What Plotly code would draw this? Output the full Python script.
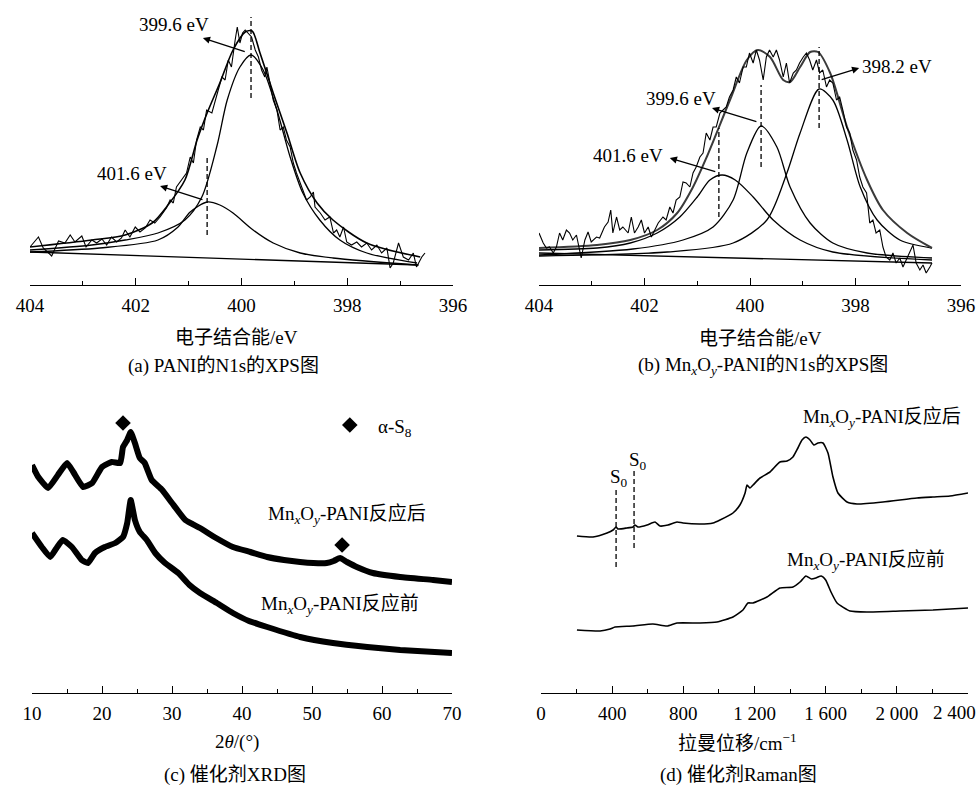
import plotly.graph_objects as go

# ---------------- (a) PANI N1s XPS ----------------
a_raw_ev = [404.00, 403.84, 403.75, 403.59, 403.46, 403.34, 403.24, 403.15, 403.02, 402.94,
            402.83, 402.74, 402.64, 402.55, 402.46, 402.36, 402.27, 402.20, 402.11, 402.01,
            401.92, 401.82, 401.73, 401.64, 401.54, 401.48, 401.42, 401.35, 401.29, 401.23,
            401.13, 401.04, 400.97, 400.91, 400.85, 400.78, 400.72, 400.66, 400.56, 400.50,
            400.44, 400.37, 400.31, 400.25, 400.19, 400.12, 400.08, 400.03, 399.98, 399.93,
            399.87, 399.81, 399.74, 399.68, 399.62, 399.56, 399.52, 399.46, 399.40, 399.33,
            399.27, 399.21, 399.15, 399.08, 399.02, 398.96, 398.89, 398.83, 398.77, 398.70,
            398.64, 398.61, 398.51, 398.42, 398.33, 398.26, 398.20, 398.14, 398.07, 398.01,
            397.92, 397.82, 397.73, 397.63, 397.54, 397.44, 397.35, 397.25, 397.19, 397.13,
            397.03, 396.94, 396.84, 396.75, 396.69, 396.59, 396.53]
a_raw = [38, 48, 37, 29, 44, 42, 50, 43, 49, 38,
         45, 42, 46, 40, 48, 43, 47, 55, 48, 58,
         53, 57, 65, 62, 68, 72, 77, 85, 82, 98,
         105, 112, 128, 122, 145, 158, 155, 175, 172, 185,
         195, 208, 205, 225, 218, 245, 258, 242, 252, 255,
         252, 248, 235, 228, 215, 208, 218, 202, 185, 175,
         155, 158, 145, 138, 122, 112, 102, 95, 85, 88,
         93, 78, 72, 65, 68, 52, 55, 48, 58, 43,
         40, 43, 38, 42, 35, 40, 32, 37, 17, 22,
         42, 28, 25, 32, 18, 28, 32]

a_env_ev = [404.00, 402.83, 402.20, 401.69, 401.39, 401.07, 400.84, 400.65, 400.41, 400.16,
            399.93, 399.80, 399.65, 399.40, 399.14, 398.89, 398.57, 398.27, 397.63, 396.62]
a_env = [38, 45, 50, 62, 80, 105, 145, 172, 202, 235,
         253, 254, 232, 192, 152, 112, 82, 65, 42, 28]

a_c1_ev = [404.00, 402.83, 402.20, 401.58, 401.07, 400.75, 400.46, 400.27, 400.03, 399.82,
           399.59, 399.33, 399.08, 398.84, 398.52, 398.14, 397.63, 396.68]
a_c1 = [35, 40, 45, 52, 65, 88, 140, 185, 218, 230,
        215, 175, 128, 92, 65, 45, 32, 22]

a_c2_ev = [404.00, 402.68, 401.58, 401.20, 400.97, 400.65, 400.41, 400.16, 399.78, 399.40,
           398.89, 398.27, 396.68]
a_c2 = [33, 37, 45, 58, 73, 83, 80, 72, 55, 42,
        32, 27, 20]

a_base_ev = [404.00, 396.65]
a_base = [33, 20]

a_peaks_ev = [399.82, 400.65]
a_peaks_lo = [187, 50]
a_peaks_hi = [268, 130]

# ---------------- (b) MnxOy-PANI N1s XPS ----------------
b_raw_ev = [404.00, 403.92, 403.86, 403.80, 403.73, 403.67, 403.61, 403.55, 403.48, 403.42,
            403.36, 403.29, 403.20, 403.13, 403.07, 403.01, 402.91, 402.85, 402.76, 402.69,
            402.64, 402.60, 402.53, 402.47, 402.41, 402.31, 402.25, 402.19, 402.12, 402.06,
            402.00, 401.93, 401.87, 401.81, 401.74, 401.65, 401.59, 401.52, 401.46, 401.40,
            401.33, 401.27, 401.21, 401.14, 401.08, 401.02, 400.95, 400.89, 400.83, 400.76,
            400.70, 400.64, 400.57, 400.51, 400.45, 400.39, 400.32, 400.26, 400.20, 400.13,
            400.07, 400.01, 399.94, 399.88, 399.82, 399.75, 399.69, 399.63, 399.56, 399.50,
            399.44, 399.37, 399.31, 399.25, 399.18, 399.12, 399.06, 398.99, 398.93, 398.87,
            398.81, 398.74, 398.68, 398.62, 398.55, 398.49, 398.43, 398.36, 398.30, 398.24,
            398.17, 398.11, 398.05, 397.98, 397.92, 397.86, 397.79, 397.73, 397.67, 397.61,
            397.54, 397.48, 397.42, 397.35, 397.29, 397.23, 397.16, 397.10, 397.04, 396.97,
            396.91, 396.85, 396.78, 396.72, 396.66, 396.59, 396.55]
b_raw = [52, 42, 37, 38, 32, 38, 52, 45, 55, 52,
         45, 50, 27, 45, 53, 43, 48, 47, 58, 63,
         75, 52, 68, 55, 58, 52, 68, 52, 58, 65,
         52, 58, 48, 55, 62, 68, 65, 78, 72, 85,
         88, 103, 102, 98, 112, 118, 128, 132, 152, 145,
         158, 158, 172, 175, 178, 188, 195, 208, 202, 218,
         218, 232, 222, 235, 225, 205, 228, 235, 228, 235,
         225, 208, 222, 202, 212, 215, 222, 228, 232, 225,
         215, 225, 212, 215, 198, 205, 202, 185, 188, 175,
         158, 152, 135, 125, 108, 98, 92, 62, 65, 52,
         55, 38, 28, 25, 32, 22, 27, 18, 25, 32,
         40, 22, 15, 20, 12, 18, 22]

b_env_ev = [404.00, 402.90, 402.27, 401.76, 401.38, 401.08, 400.82, 400.38, 400.06, 399.85,
            399.62, 399.37, 399.24, 399.05, 398.86, 398.71, 398.48, 398.16, 397.78, 397.48,
            397.02, 396.55]
b_env = [37, 40, 45, 55, 72, 98, 128, 185, 225, 235,
         228, 205, 203, 218, 233, 233, 212, 158, 105, 75,
         52, 37]

b_c1_ev = [404.00, 402.90, 402.27, 401.76, 401.33, 401.00, 400.76, 400.53, 400.28, 399.94,
           399.56, 399.05, 398.43, 396.55]
b_c1 = [35, 37, 42, 52, 68, 88, 105, 110, 105, 88,
        65, 45, 33, 25]

b_c2_ev = [404.00, 402.22, 401.27, 400.70, 400.32, 400.06, 399.79, 399.49, 399.24, 398.86,
           398.43, 397.78, 396.55]
b_c2 = [30, 36, 45, 58, 85, 132, 159, 138, 98, 62,
        42, 32, 27]

b_c3_ev = [404.00, 401.57, 400.32, 399.68, 399.30, 399.05, 398.69, 398.43, 398.16, 397.91,
           397.59, 397.16, 396.55]
b_c3 = [29, 33, 42, 65, 112, 152, 196, 185, 145, 98,
        65, 45, 37]

b_base_ev = [404.00, 396.55]
b_base = [32, 22]

b_peaks_ev = [400.59, 399.79, 398.69]
b_peaks_lo = [68, 118, 157]
b_peaks_hi = [157, 200, 238]

# ---------------- (c) XRD ----------------
xrd_after_2t = [10.0, 10.9, 12.3, 13.7, 15.0, 15.9, 17.3, 18.6, 20.0, 21.4,
                22.6, 23.0, 23.6, 24.1, 24.7, 25.4, 26.1, 27.1, 28.6, 30.0,
                31.9, 34.0, 36.3, 38.7, 41.2, 43.6, 46.0, 48.3, 50.2, 52.1,
                53.1, 54.0, 55.0, 56.4, 58.7, 62.6, 67.3, 70.0]
xrd_after = [228, 216, 205, 218, 230, 221, 206, 210, 226, 231,
             230, 246, 253, 261, 250, 235, 230, 213, 203, 190,
             173, 165, 155, 146, 141, 136, 133, 131, 130, 130,
             132, 135, 131, 126, 120, 116, 113, 111]

xrd_before_2t = [10.0, 11.4, 12.6, 13.6, 14.4, 15.7, 17.1, 18.0, 19.0, 20.4,
                 21.9, 23.0, 23.6, 24.1, 24.7, 25.4, 26.4, 27.6, 29.0, 30.9,
                 32.5, 34.0, 36.4, 38.7, 41.0, 43.6, 48.3, 53.0, 57.9, 62.6,
                 70.0]
xrd_before = [160, 146, 136, 146, 153, 146, 133, 130, 140, 146,
              150, 156, 170, 193, 173, 161, 153, 140, 130, 120,
              108, 100, 90, 80, 72, 66, 56, 50, 46, 43,
              40]

s8_2t = [23.0, 54.3]
s8_int = [270, 148]
s8_legend = (55.4, 268)

# ---------------- (d) Raman ----------------
raman_after_shift = [202, 292, 371, 405, 422, 433, 483, 517, 528, 545,
                     596, 641, 669, 714, 764, 798, 894, 967, 1006, 1079,
                     1118, 1147, 1158, 1175, 1192, 1231, 1287, 1343, 1383, 1416,
                     1444, 1467, 1489, 1512, 1534, 1557, 1585, 1613, 1641, 1669,
                     1720, 1776, 1922, 2113, 2203, 2299, 2400]
raman_after = [157, 156, 160, 163, 166, 164, 165, 166, 168, 166,
               168, 171, 167, 168, 171, 170, 169, 170, 173, 180,
               188, 200, 208, 205, 208, 215, 221, 231, 232, 236,
               245, 253, 256, 253, 248, 250, 250, 240, 216, 200,
               191, 189, 191, 195, 196, 197, 200]

raman_before_shift = [202, 332, 388, 416, 517, 629, 708, 764, 894, 989,
                      1079, 1135, 1163, 1192, 1270, 1343, 1416, 1456, 1489, 1520,
                      1545, 1575, 1600, 1630, 1664, 1737, 1832, 2018, 2203, 2400]
raman_before = [63, 62, 64, 66, 67, 69, 67, 70, 70, 71,
                76, 83, 90, 90, 96, 105, 106, 111, 117, 114,
                115, 117, 113, 101, 90, 82, 81, 82, 83, 85]

s0_shift = [422, 523]
s0_lo = [126, 145]
s0_hi = [206, 223]

raman_ticks = [0, 400, 800, 1200, 1600, 2000, 2400]
raman_ticktext = ["0", "400", "800", "1 200", "1 600", "2 000", ""]
raman_last_label = "2 400"

# ---------------- layout helpers ----------------
W, H = 978, 785
SERIF = "Liberation Serif, Times New Roman, Noto Sans CJK SC, serif"
FS = 19
LW = 1.3


def fx(p):
    return p / W


def fy(p):
    return 1 - p / H


fig = go.Figure()


def line(x, y, xa, ya, width=LW, shape="linear", color="black", dash=None, smoothing=None):
    ln = dict(color=color, width=width, shape=shape)
    if dash:
        ln["dash"] = dash
    if smoothing is not None:
        ln["smoothing"] = smoothing
    fig.add_trace(go.Scatter(x=x, y=y, mode="lines", line=ln, xaxis=xa, yaxis=ya,
                             showlegend=False, hoverinfo="skip"))


# (a)
line(a_base_ev, a_base, "x", "y")
line(a_c2_ev, a_c2, "x", "y", shape="spline", smoothing=0.8)
line(a_c1_ev, a_c1, "x", "y", shape="spline", smoothing=0.8)
line(a_env_ev, a_env, "x", "y", width=1.6, shape="spline", smoothing=0.8)
line(a_raw_ev, a_raw, "x", "y", width=1.1)
for e, lo, hi in zip(a_peaks_ev, a_peaks_lo, a_peaks_hi):
    line([e, e], [lo, hi], "x", "y", dash="5px,3px")

# (b)
line(b_base_ev, b_base, "x2", "y2")
line(b_c1_ev, b_c1, "x2", "y2", shape="spline", smoothing=0.8)
line(b_c2_ev, b_c2, "x2", "y2", shape="spline", smoothing=0.8)
line(b_c3_ev, b_c3, "x2", "y2", shape="spline", smoothing=0.8)
line(b_env_ev, b_env, "x2", "y2", width=2.0, color="#3a3a3a", shape="spline", smoothing=0.8)
line(b_raw_ev, b_raw, "x2", "y2", width=1.1)
for e, lo, hi in zip(b_peaks_ev, b_peaks_lo, b_peaks_hi):
    line([e, e], [lo, hi], "x2", "y2", dash="5px,3px")

# (c) dense diffractograms drawn as a heavy trace
line(xrd_after_2t, xrd_after, "x3", "y3", width=6, shape="spline", smoothing=0.4)
line(xrd_before_2t, xrd_before, "x3", "y3", width=6, shape="spline", smoothing=0.4)
fig.add_trace(go.Scatter(x=s8_2t + [s8_legend[0]], y=s8_int + [s8_legend[1]], mode="markers",
                         marker=dict(symbol="diamond", size=12, color="black"),
                         xaxis="x3", yaxis="y3", showlegend=False, hoverinfo="skip"))

# (d)
line(raman_after_shift, raman_after, "x4", "y4", width=1.6, shape="spline", smoothing=0.5)
line(raman_before_shift, raman_before, "x4", "y4", width=1.6, shape="spline", smoothing=0.5)
for s, lo, hi in zip(s0_shift, s0_lo, s0_hi):
    line([s, s], [lo, hi], "x4", "y4", dash="5px,3px")

tickfont = dict(family=SERIF, size=FS, color="black")


def xaxis(dom, rng, dtick, minor_dtick, anchor, **kw):
    d = dict(domain=[fx(dom[0]), fx(dom[1])], range=rng, anchor=anchor,
             showline=True, linecolor="black", linewidth=1.4,
             ticks="inside", ticklen=7, tickwidth=1.4, tickcolor="black",
             minor=dict(ticks="inside", ticklen=4, tickwidth=1.2, tickcolor="black", dtick=minor_dtick),
             showgrid=False, zeroline=False, tickfont=tickfont, fixedrange=True,
             automargin=False, ticklabeloverflow="allow", ticklabelstandoff=3)
    if dtick is not None:
        d["dtick"] = dtick
    d.update(kw)
    return d


def yaxis(top, bottom, rng, anchor):
    return dict(domain=[fy(bottom), fy(top)], range=rng, visible=False, automargin=False,
                showgrid=False, zeroline=False, anchor=anchor, fixedrange=True)


fig.update_layout(
    width=W, height=H, margin=dict(l=0, r=0, t=0, b=0, autoexpand=False),
    paper_bgcolor="white", plot_bgcolor="rgba(0,0,0,0)",
    font=dict(family=SERIF, size=FS, color="black"),
    xaxis=xaxis((30, 453), [404, 396], 2, 1, "y"),
    yaxis=yaxis(5, 285, [0, 280], "x"),
    xaxis2=xaxis((539, 961), [404, 396], 2, 1, "y2"),
    yaxis2=yaxis(5, 285, [0, 280], "x2"),
    xaxis3=xaxis((32, 452), [10, 70], 10, 5, "y3"),
    yaxis3=yaxis(393, 693, [0, 300], "x3"),
    xaxis4=xaxis((541, 968), [0, 2400], None, 200, "y4",
                 tickmode="array", tickvals=raman_ticks, ticktext=raman_ticktext),
    yaxis4=yaxis(393, 693, [0, 300], "x4"),
)

ann = []


def text(x, y, s, xref="paper", yref="paper", size=FS, xanchor="center"):
    ann.append(dict(x=x, y=y, xref=xref, yref=yref, text=s, showarrow=False,
                    xanchor=xanchor, yanchor="middle",
                    font=dict(family=SERIF, size=size, color="black")))


def arrow(head, tail, xref, yref):
    ann.append(dict(x=head[0], y=head[1], ax=tail[0], ay=tail[1], xref=xref, yref=yref,
                    axref=xref, ayref=yref, text="", showarrow=True,
                    arrowhead=2, arrowsize=1.1, arrowwidth=1.3, arrowcolor="black"))


# peak labels, (a)
text(401.28, 261, "399.6 eV", "x", "y")
arrow((400.73, 247), (399.91, 233), "x", "y")
text(402.07, 112, "401.6 eV", "x", "y")
arrow((401.54, 99), (400.71, 85), "x", "y")

# peak labels, (b)
text(397.21, 219, "398.2 eV", "x2", "y2")
arrow((397.93, 217), (398.67, 205), "x2", "y2")
text(401.31, 187, "399.6 eV", "x2", "y2")
arrow((400.72, 177), (399.85, 163), "x2", "y2")
text(402.31, 130, "401.6 eV", "x2", "y2")
arrow((401.52, 127), (400.63, 113), "x2", "y2")

MNO = "Mn<sub><i>x</i></sub>O<sub><i>y</i></sub>-PANI"

# (c) labels
text(61.9, 265, "α-S<sub>8</sub>", "x3", "y3")
text(55.0, 178, MNO + "反应后", "x3", "y3")
text(54.0, 88, MNO + "反应前", "x3", "y3")

# (d) labels
text(1917, 275, MNO + "反应后", "x4", "y4")
text(1827, 132, MNO + "反应前", "x4", "y4")
text(438, 215, "S<sub>0</sub>", "x4", "y4")
text(545, 232, "S<sub>0</sub>", "x4", "y4")
# last Raman tick label kept inside the page edge
text(1.0, fy(712), raman_last_label, xanchor="right")

# axis titles and captions
text(fx(236), fy(337), "电子结合能/eV")
text(fx(760), fy(338), "电子结合能/eV")
text(fx(237), fy(742), "2<i>θ</i>/(°)")
text(fx(737), fy(742), "拉曼位移/cm<sup>−1</sup>")
text(fx(223), fy(366), "(a) PANI的N1s的XPS图")
text(fx(763), fy(366), "(b) " + MNO + "的N1s的XPS图")
text(fx(235), fy(775), "(c) 催化剂XRD图")
text(fx(738), fy(775), "(d) 催化剂Raman图")

fig.update_layout(annotations=ann)
fig.write_html("out.html")
